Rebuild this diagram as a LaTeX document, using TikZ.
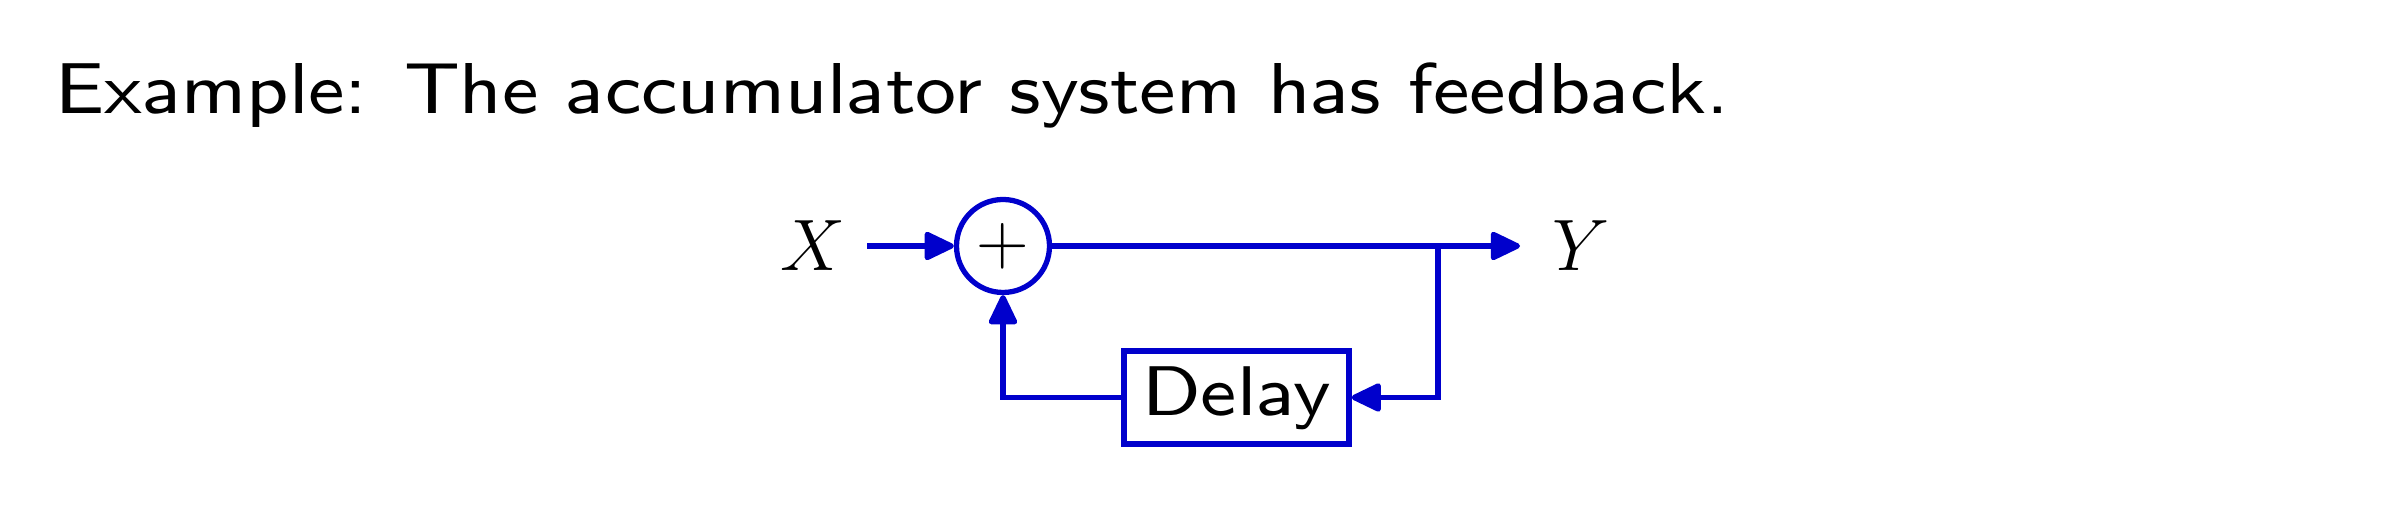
\documentclass[tikz,border=0pt]{standalone}
\usetikzlibrary{arrows.meta,positioning}
\definecolor{sysblue}{RGB}{0,0,204}
\font\ttlfont=cmss8 at 20.5pt
\font\blkfont=cmss8 at 20pt
\begin{document}
\begin{tikzpicture}[>={Triangle[length=3.3mm,width=3mm,round]},
        sig/.style={->, draw=sysblue, line width=1.5pt},
        blk/.style={draw=sysblue, line width=1.5pt, font=\blkfont}]
        \useasboundingbox (0,0) rectangle (23.84,5.15);

        % 标题
        \node[anchor=base west, inner sep=0pt, font=\ttlfont] (title) at (0.55,4.01) {\scalebox{1.07}[1]{Example:  The accumulator system has feedback.}};

        % 加法器与方框
        \node[blk, circle, minimum size=0.93cm, inner sep=0pt, font=\fontsize{20}{24}\selectfont] (sum) at (10.03,2.69) {$+$};
        \node[blk, minimum width=2.25cm, minimum height=0.93cm, inner sep=0pt] (delay) at (12.365,1.175) {\scalebox{1.09}[1]{Delay}};

        % 输入输出
        \node[font=\fontsize{20}{24}\selectfont] (x) at (8.13,2.69) {$X$};
        \node[font=\fontsize{20}{24}\selectfont] (y) at (15.81,2.69) {$Y$};
        \coordinate (xin) at (8.67,2.69);
        \coordinate (yout) at (15.20,2.69);
        \coordinate (br) at (14.38,2.69);

        % 连线
        \draw[sig] (xin) -- (sum.west);
        \draw[sig] (sum.east) -- (yout);
        \draw[sig] (br) |- (delay.east);
        \draw[sig] (delay.west) -| (sum.south);
    \end{tikzpicture}
\end{document}
